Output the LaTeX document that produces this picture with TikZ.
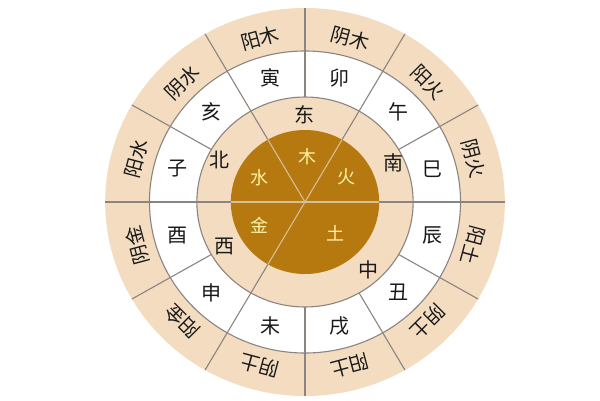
\documentclass[tikz,border=0pt]{standalone}
\usepackage{fontspec}
\newfontfamily\cjk{Noto Sans CJK SC}
\definecolor{beige}{RGB}{243,220,192}
\definecolor{brownd}{RGB}{182,121,16}
\definecolor{linec}{RGB}{140,132,128}
\definecolor{linel}{RGB}{214,190,150}
\definecolor{goldt}{RGB}{255,242,165}
\definecolor{textc}{RGB}{25,25,25}
\tikzset{
  ringline/.style={draw=linec, line width=1.1pt},
  diskline/.style={draw=linel, line width=1.1pt},
  olabel/.style={font=\cjk\fontsize{19.5}{19.5}\selectfont, text=textc, inner sep=0pt},
  blabel/.style={font=\cjk\fontsize{20}{20}\selectfont, text=textc, inner sep=0pt},
  dlabel/.style={font=\cjk\fontsize{20}{20}\selectfont, text=textc, inner sep=0pt},
  elabel/.style={font=\cjk\fontsize{18}{18}\selectfont, text=goldt, inner sep=0pt}
}
\begin{document}
\begin{tikzpicture}[x=1pt,y=1pt]
\useasboundingbox (-305,-198) rectangle (295,202);
\fill[white] (-305,-198) rectangle (295,202);
\begin{scope}[xscale=1.03]
  \fill[beige] (0,0) circle (194);
  \fill[white] (0,0) circle (151);
  \fill[beige] (0,0) circle (105);
  \fill[brownd] (0,0) circle (72);
  \draw[ringline] (0,0) circle (151);
  \draw[ringline] (0,0) circle (105);
  \foreach \a in {0,60,120,180,240} {
    \draw[ringline] (\a:72) -- (\a:194);
    \draw[diskline] (0,0) -- (\a:72);
  }
  \foreach \a in {30,90,150,210,270,300,330}
    \draw[ringline] (\a:105) -- (\a:194);
  \foreach \a/\t [count=\i] in {105/阳木,75/阴木,45/阳火,15/阴火,-15/阳土,-45/阴土,-75/阳土,-105/阴土,-135/阳金,-165/阴金,165/阳水,135/阴水}
    \node[olabel, rotate=\a-90] (o\i) at (\a:169) {\t};
  \foreach \a/\t [count=\i] in {105/寅,75/卯,45/午,15/巳,-15/辰,-45/丑,-75/戌,-105/未,-135/申,-165/酉,165/子,135/亥}
    \node[blabel] (b\i) at (\a:128) {\t};
\end{scope}
\node[dlabel] (east) at (0,87) {东};
\node[dlabel] (north) at (-85,42) {北};
\node[dlabel] (south) at (88,39) {南};
\node[dlabel] (west) at (-80,-45) {西};
\node[dlabel] (center) at (63,-68) {中};
\node[elabel] (wood) at (3,45) {木};
\node[elabel] (water) at (-45,24) {水};
\node[elabel] (fire) at (42,25) {火};
\node[elabel] (metal) at (-45,-23) {金};
\node[elabel] (earth) at (30,-31) {土};
\end{tikzpicture}
\end{document}
